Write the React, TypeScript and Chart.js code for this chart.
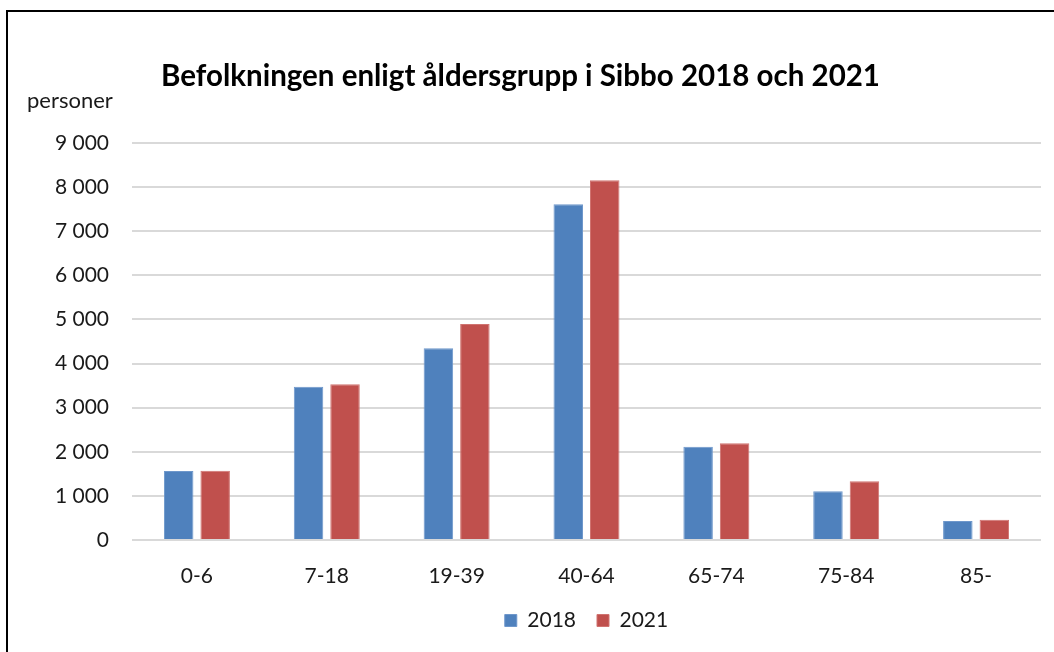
import React, { useEffect, useRef } from "react";
import { Chart, registerables } from "chart.js";

Chart.register(...registerables);

const categories = ["0-6", "7-18", "19-39", "40-64", "65-74", "75-84", "85-"];
const values2018 = [1565, 3476, 4347, 7612, 2116, 1104, 431];
const values2021 = [1570, 3530, 4898, 8156, 2192, 1331, 460];
const seriesLabels = ["2018", "2021"];
const yMin = 0;
const yMax = 9000;
const yStep = 1000;
const titleText = "Befolkningen enligt åldersgrupp i Sibbo 2018 och 2021";
const yUnitText = "personer";

const FONT = "Lato, 'Open Sans', sans-serif";

const unitPlugin = {
  id: "unitLabel",
  afterDraw(chart: any) {
    const ctx = chart.ctx;
    ctx.save();
    ctx.font = `22px ${FONT}`;
    ctx.fillStyle = "#1a1a1a";
    ctx.textAlign = "left";
    ctx.textBaseline = "middle";
    ctx.fillText(yUnitText, 27, 101);
    ctx.restore();
  },
};

const legendShift = {
  id: "legendShift",
  afterLayout(chart: any) {
    const lg = chart.legend;
    if (!lg) return;
    lg.left += 66;
    lg.right += 66;
  },
};

function fmt(v: number) {
  return String(v).replace(/\B(?=(\d{3})+(?!\d))/g, " ");
}

export default function App() {
  const ref = useRef<HTMLCanvasElement | null>(null);

  useEffect(() => {
    if (!ref.current) return;
    const chart = new Chart(ref.current, {
      type: "bar",
      data: {
        labels: categories,
        datasets: [
          {
            label: seriesLabels[0],
            data: values2018,
            backgroundColor: "#4F81BD",
            borderColor: "#6E97CB",
            borderWidth: 1,
          },
          {
            label: seriesLabels[1],
            data: values2021,
            backgroundColor: "#C0504D",
            borderColor: "#D07370",
            borderWidth: 1,
          },
        ],
      },
      options: {
        responsive: false,
        animation: false,
        datasets: {
          bar: { categoryPercentage: 0.562, barPercentage: 0.808 },
        },
        layout: { padding: { left: 0, right: 13, top: 0, bottom: 11 } },
        plugins: {
          title: {
            display: true,
            text: titleText,
            color: "#000",
            font: { family: FONT, size: 29.5, weight: "bold" },
            padding: { top: 59, bottom: 48.6 },
          },
          legend: {
            position: "bottom",
            labels: {
              color: "#1a1a1a",
              font: { family: FONT, size: 21 },
              boxWidth: 12,
              boxHeight: 12,
              padding: 21,
            },
          },
          tooltip: { enabled: false },
        },
        scales: {
          x: {
            grid: { display: false },
            border: { display: false },
            ticks: {
              color: "#1a1a1a",
              font: { family: FONT, size: 21 },
              padding: 16,
            },
            afterFit(scale: any) {
              scale.height = 49;
            },
          },
          y: {
            min: yMin,
            max: yMax,
            grid: { color: "#d9d9d9", lineWidth: 2, drawTicks: false },
            border: { display: false },
            ticks: {
              stepSize: yStep,
              color: "#1a1a1a",
              font: { family: FONT, size: 21 },
              padding: 23,
              callback: (v: any) => fmt(Number(v)),
            },
            afterFit(scale: any) {
              scale.width = 132;
            },
          },
        },
      },
      plugins: [unitPlugin, legendShift],
    });
    return () => chart.destroy();
  }, []);

  return (
    <div
      style={{
        position: "fixed",
        left: 0,
        top: 0,
        width: 1054,
        height: 652,
        background: "#fff",
        overflow: "hidden",
      }}
    >
      <div
        style={{
          position: "absolute",
          left: 6,
          top: 10,
          width: 1100,
          height: 700,
          borderLeft: "2px solid #000",
          borderTop: "2px solid #000",
        }}
      />
      <canvas
        ref={ref}
        width={1054}
        height={652}
        style={{ position: "absolute", left: 0, top: 0, width: 1054, height: 652 }}
      />
    </div>
  );
}
